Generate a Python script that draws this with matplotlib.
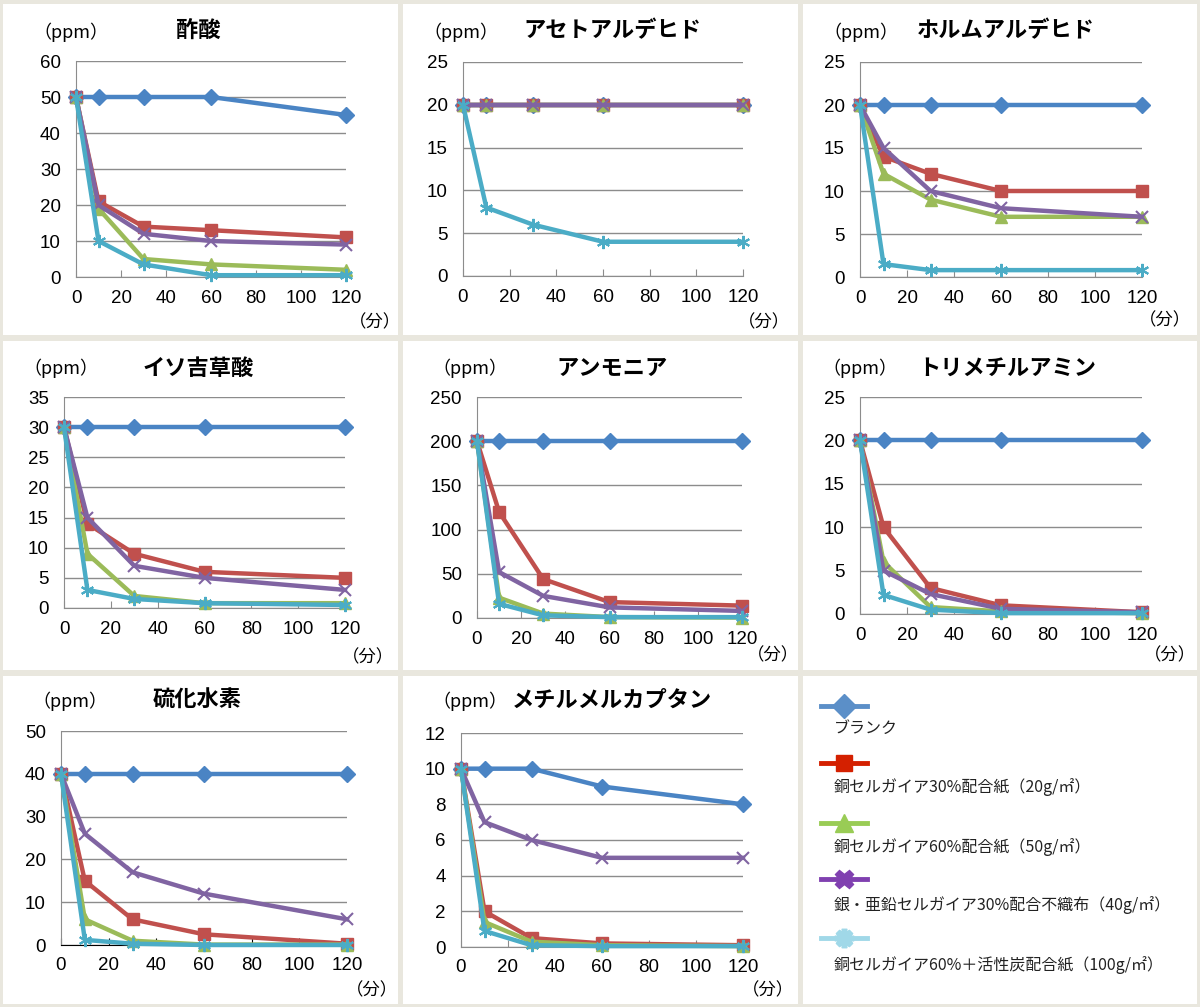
"""Deodorising test: gas concentration over time for eight odour gases."""

import matplotlib
matplotlib.use("Agg")
import matplotlib.pyplot as plt
from matplotlib.patches import Rectangle

plt.rcParams["font.family"] = ["Liberation Sans", "Noto Sans CJK JP", "DejaVu Sans"]

W, H = 1200, 1007

minutes = [0, 10, 30, 60, 120]
x_ticks = [0, 20, 40, 60, 80, 100, 120]

series_labels = [
    "ブランク",
    "銅セルガイア30%配合紙（20g/㎡）",
    "銅セルガイア60%配合紙（50g/㎡）",
    "銀・亜鉛セルガイア30%配合不織布（40g/㎡）",
    "銅セルガイア60%＋活性炭配合紙（100g/㎡）",
]

gas_titles = ["酢酸", "アセトアルデヒド", "ホルムアルデヒド", "イソ吉草酸",
              "アンモニア", "トリメチルアミン", "硫化水素", "メチルメルカプタン"]
y_max = [60, 25, 25, 35, 250, 25, 50, 12]
y_step = [10, 5, 5, 5, 50, 5, 10, 2]

# rows: blank, Cu30, Cu60, Ag/Zn30, Cu60+carbon
acetic_acid = [
    [50, 50, 50, 50, 45],
    [50, 21, 14, 13, 11],
    [50, 19, 5, 3.5, 2],
    [50, 20, 12, 10, 9],
    [50, 10, 3.5, 0.5, 0.5],
]
acetaldehyde = [
    [20, 20, 20, 20, 20],
    [20, 20, 20, 20, 20],
    [20, 20, 20, 20, 20],
    [20, 20, 20, 20, 20],
    [20, 8, 6, 4, 4],
]
formaldehyde = [
    [20, 20, 20, 20, 20],
    [20, 14, 12, 10, 10],
    [20, 12, 9, 7, 7],
    [20, 15, 10, 8, 7],
    [20, 1.5, 0.8, 0.8, 0.8],
]
isovaleric_acid = [
    [30, 30, 30, 30, 30],
    [30, 14, 9, 6, 5],
    [30, 9, 2, 0.8, 0.8],
    [30, 15, 7, 5, 3],
    [30, 3, 1.5, 0.8, 0.5],
]
ammonia = [
    [200, 200, 200, 200, 200],
    [200, 120, 44, 18, 14],
    [200, 23, 5, 1, 0.5],
    [200, 52, 25, 12, 8],
    [200, 16, 3, 1, 1],
]
trimethylamine = [
    [20, 20, 20, 20, 20],
    [20, 10, 3, 1, 0.2],
    [20, 6, 0.8, 0.3, 0.1],
    [20, 5, 2.3, 0.6, 0.2],
    [20, 2.2, 0.5, 0.1, 0.1],
]
hydrogen_sulfide = [
    [40, 40, 40, 40, 40],
    [40, 15, 6, 2.5, 0.3],
    [40, 6, 1, 0.1, 0.1],
    [40, 26, 17, 12, 6],
    [40, 1.2, 0.3, 0, 0],
]
methyl_mercaptan = [
    [10, 10, 10, 9, 8],
    [10, 2, 0.5, 0.2, 0.1],
    [10, 1.4, 0.3, 0.1, 0.05],
    [10, 7, 6, 5, 5],
    [10, 0.9, 0.1, 0.05, 0.05],
]
gas_data = [acetic_acid, acetaldehyde, formaldehyde, isovaleric_acid,
            ammonia, trimethylamine, hydrogen_sulfide, methyl_mercaptan]

line_colors = ["#4a84c4", "#c0504d", "#9bbb59", "#8064a2", "#4bacc6"]
legend_colors = ["#5b8fc8", "#d42000", "#99cc55", "#8040b0", "#a0d8e8"]
marker_styles = [
    dict(marker="D", ms=8),
    dict(marker="s", ms=9),
    dict(marker="^", ms=9),
    dict(marker="x", ms=8.5, mew=1.5),
    dict(marker=(6, 2, 0), ms=9.5, mew=1.5),
]

# pixel boxes: panel background, axes, title centre, ppm label, minutes label
panels = [(3, 4, 398, 335), (403, 4, 798, 335), (803, 4, 1197, 335),
          (3, 341, 398, 670), (403, 341, 798, 670), (803, 341, 1197, 670),
          (3, 676, 398, 1004), (403, 676, 798, 1004), (803, 676, 1197, 1004)]
axes_px = [(76, 61, 346, 277), (463, 62, 743, 276), (860, 62, 1142, 277),
           (64, 397, 345, 608), (477, 397, 742, 618), (860, 397, 1142, 614),
           (61, 731, 347, 945), (461, 733, 743, 947)]
title_px = [(198, 31), (612, 31), (1006, 31), (198, 368), (612, 368),
            (1007, 368), (197, 700), (612, 700)]
ppm_px = [(33, 32), (423, 32), (823, 32), (23, 368), (432, 368),
          (822, 368), (32, 701), (432, 701)]
fun_px = [(375, 322), (764, 322), (1165, 320), (368, 657), (773, 655),
          (1170, 655), (372, 990), (768, 990)]


def fx(x):
    return x / W


def fy(y):
    return 1 - y / H


fig = plt.figure(figsize=(W / 100, H / 100), dpi=100, facecolor="#e9e7de")

for x0, y0, x1, y1 in panels:
    fig.add_artist(Rectangle((fx(x0), fy(y1)), fx(x1 - x0), (y1 - y0) / H,
                             transform=fig.transFigure, facecolor="white",
                             edgecolor="none", zorder=-1))

for i, data in enumerate(gas_data):
    x0, y0, x1, y1 = axes_px[i]
    ax = fig.add_axes([fx(x0), fy(y1), fx(x1 - x0), (y1 - y0) / H])
    ax.set_facecolor("none")
    for k, values in enumerate(data):
        ax.plot(minutes, values, color=line_colors[k], lw=3.2,
                mec=line_colors[k], mfc=line_colors[k], clip_on=False,
                zorder=3 + k, **marker_styles[k])
    ax.set_xlim(0, 120)
    ax.set_ylim(0, y_max[i])
    ax.set_xticks(x_ticks)
    ax.set_yticks(range(0, y_max[i] + 1, y_step[i]))
    ax.grid(axis="y", color="#8c8c8c", lw=1)
    ax.set_axisbelow(True)
    for side in ("top", "right"):
        ax.spines[side].set_visible(False)
    axis_color = "black" if i == 6 else "#8c8c8c"
    ax.spines["bottom"].set_color(axis_color)
    ax.spines["left"].set_color("#8c8c8c")
    ax.tick_params(axis="x", direction="in", length=5, color=axis_color,
                   labelsize=13.5, pad=9)
    ax.tick_params(axis="y", length=0, labelsize=13.5, pad=11)
    fig.text(fx(title_px[i][0]), fy(title_px[i][1]), gas_titles[i],
             ha="center", va="center", fontsize=16, fontweight="bold",
             family=["Noto Sans CJK JP"])
    fig.text(fx(ppm_px[i][0]), fy(ppm_px[i][1]), "（ppm）", ha="left",
             va="center", fontsize=13, family=["Noto Sans CJK JP"])
    fig.text(fx(fun_px[i][0]), fy(fun_px[i][1]), "（分）", ha="center",
             va="center", fontsize=12.5, family=["Noto Sans CJK JP"])

# legend panel
lx0, ly0, lx1, ly1 = panels[8]
leg = fig.add_axes([fx(lx0), fy(ly1), fx(lx1 - lx0), (ly1 - ly0) / H])
leg.set_xlim(lx0, lx1)
leg.set_ylim(ly1, ly0)
leg.axis("off")
legend_markers = [
    dict(marker="D", ms=12),
    dict(marker="s", ms=12),
    dict(marker="^", ms=13),
    dict(marker="X", ms=13),
    dict(marker=(8, 2, 0), ms=14, mew=4),
]
line_rows = [706, 763, 823, 879, 938]
text_rows = [728, 787, 847, 905, 965]
for k, label in enumerate(series_labels):
    leg.plot([821, 867], [line_rows[k]] * 2, color=legend_colors[k], lw=3.5)
    leg.plot([844], [line_rows[k]], color=legend_colors[k], lw=0,
             mec=legend_colors[k], mfc=legend_colors[k], **legend_markers[k])
    leg.text(834, text_rows[k], label, ha="left", va="center", fontsize=11.5,
             family=["Noto Sans CJK JP"], color="#222222")

fig.savefig("out.png", dpi=100, facecolor=fig.get_facecolor())
